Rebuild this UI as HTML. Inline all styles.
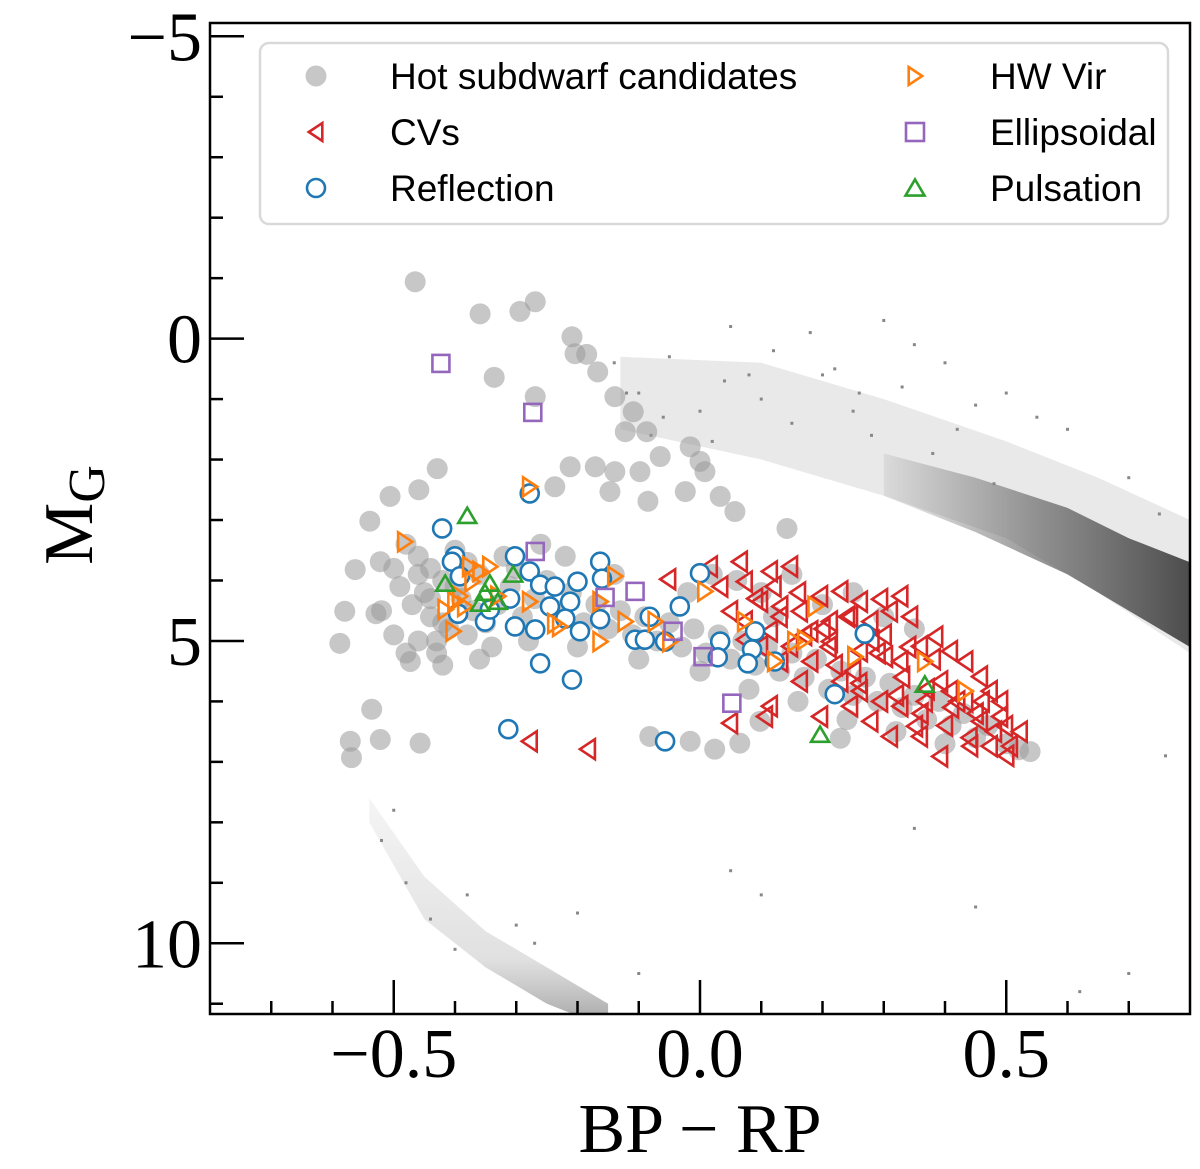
<!DOCTYPE html>
<html><head><meta charset="utf-8">
<style>
html,body{margin:0;padding:0;background:#fff;}
svg{display:block;}
.tick{font-family:"Liberation Serif","DejaVu Serif",serif;font-size:70px;fill:#000;}
.leg{font-family:"Liberation Sans","DejaVu Sans",sans-serif;font-size:37px;fill:#000;}
</style></head>
<body>
<svg id="chart" width="1200" height="1169" viewBox="0 0 1200 1169" xmlns="http://www.w3.org/2000/svg">
<defs>
<clipPath id="clip"><rect x="210" y="23" width="980" height="991"/></clipPath>
<linearGradient id="coreGrad" x1="0" y1="0" x2="1" y2="0">
<stop offset="0" stop-color="#555" stop-opacity="0.1"/>
<stop offset="0.5" stop-color="#555" stop-opacity="0.6"/>
<stop offset="1" stop-color="#444" stop-opacity="0.95"/>
</linearGradient>
<linearGradient id="wdGrad" x1="0" y1="0" x2="0" y2="1">
<stop offset="0" stop-color="#999" stop-opacity="0.1"/>
<stop offset="0.7" stop-color="#999" stop-opacity="0.3"/>
<stop offset="1" stop-color="#777" stop-opacity="0.7"/>
</linearGradient>
</defs>
<g id="plot" clip-path="url(#clip)"></g>
<g id="axes"></g>
</svg>
<script>
// ---- data ----
const xTicks = [-0.5, 0.0, 0.5];
const xTickLabels = ["\u22120.5", "0.0", "0.5"];
const yTicks = [-5, 0, 5, 10];
const yTickLabels = ["\u22125", "0", "5", "10"];

// field-star density band (upper main-sequence / giant region)
const bandX   = [-0.13, 0.1, 0.3, 0.5, 0.65, 0.8];
const bandTop = [0.3, 0.4, 1.0, 1.7, 2.3, 3.0];
const bandBot = [1.5, 2.0, 2.6, 3.3, 4.2, 5.2];
const coreX   = [0.3, 0.45, 0.6, 0.7, 0.8];
const coreTop = [1.9, 2.3, 2.8, 3.3, 3.7];
const coreBot = [2.6, 3.2, 3.9, 4.5, 5.1];
// white-dwarf sequence strip
const wdX   = [-0.54, -0.45, -0.35, -0.25, -0.15];
const wdTop = [7.6, 8.9, 9.8, 10.4, 11.0];
const wdBot = [8.0, 9.6, 10.4, 11.0, 11.4];
// scattered field stars
const fieldX = [-0.14,-0.1,-0.05,0.0,0.05,0.08,0.12,0.18,0.22,0.26,0.3,0.35,0.4,0.45,0.5,0.55,0.6,0.7,0.75,-0.08,0.02,0.15,0.28,0.38,0.48,0.58,-0.5,-0.52,-0.48,-0.44,-0.4,-0.38,-0.3,-0.27,-0.2,-0.1,0.05,0.1,0.35,0.45,0.62,0.7,0.76,-0.12,-0.06,0.04,0.1,0.2,0.25,0.33,0.42];
const fieldY = [0.4,0.9,0.3,1.2,-0.2,0.6,0.2,-0.1,0.5,0.9,-0.3,0.1,0.4,1.1,0.9,1.3,1.5,2.3,2.9,1.6,1.7,1.4,1.6,1.9,2.4,2.8,7.8,8.3,9.0,9.6,10.1,9.2,9.7,10.0,9.5,10.5,8.8,9.2,8.1,9.4,10.8,10.5,6.9,0.9,1.3,0.7,1.0,0.6,1.2,0.8,1.5];

// hot subdwarf candidates
const sdX = [-0.465,-0.359,-0.269,-0.294,-0.209,-0.204,-0.185,-0.167,-0.336,-0.269,-0.139,-0.109,-0.122,-0.087,-0.065,-0.016,0.0,-0.212,-0.171,-0.139,-0.098,-0.147,-0.237,-0.024,0.008,0.033,0.057,-0.085,-0.429,-0.506,-0.459,-0.539,-0.563,-0.58,-0.588,-0.529,-0.522,-0.536,-0.571,-0.569,-0.522,-0.457,-0.473,0.142,-0.082,-0.016,0.024,0.065,0.098,0.229,0.539,
 -0.48,-0.46,-0.44,-0.42,-0.45,-0.47,-0.44,-0.41,-0.46,-0.43,-0.40,-0.38,-0.36,-0.39,-0.37,-0.35,-0.38,-0.34,-0.32,-0.30,-0.31,-0.33,-0.29,-0.27,-0.25,-0.23,-0.21,-0.19,-0.17,-0.15,-0.13,-0.11,-0.09,-0.07,-0.05,-0.03,-0.01,0.01,0.03,0.05,0.07,0.09,0.11,0.13,0.15,0.17,0.19,0.21,0.23,0.25,0.27,0.29,0.31,0.33,0.35,0.37,0.39,0.41,0.43,0.45,0.47,0.50,0.52,-0.49,-0.50,-0.52,-0.50,-0.48,-0.42,-0.36,-0.28,-0.20,-0.10,0.00,0.08,0.16,0.24,0.32,0.40,0.06,0.10,0.15,0.20,0.25,0.30,0.35,-0.02,0.02,0.12,-0.14,-0.22,-0.26,-0.44,-0.42,-0.40,-0.46,-0.43];
const sdY = [-0.94,-0.41,-0.61,-0.45,-0.03,0.25,0.26,0.55,0.64,0.96,0.96,1.21,1.54,1.54,1.95,1.79,2.03,2.12,2.12,2.2,2.2,2.53,2.45,2.53,2.2,2.61,2.86,2.69,2.15,2.61,2.5,3.02,3.82,4.51,5.04,4.55,3.69,6.13,6.66,6.93,6.63,6.69,5.34,3.14,6.58,6.66,6.79,6.69,6.33,6.61,6.83,
 3.4,3.6,3.8,4.0,4.2,4.4,4.6,4.8,5.0,5.2,3.5,3.7,3.9,4.3,4.5,4.7,4.9,5.1,3.6,3.8,4.1,4.4,4.6,4.3,4.0,4.5,4.2,4.7,4.4,4.8,4.5,4.9,4.6,5.0,4.7,5.1,4.8,5.2,4.9,5.3,5.0,5.4,5.1,5.5,5.2,5.6,5.3,5.8,5.5,5.9,5.6,6.0,5.7,6.1,5.9,6.3,6.0,6.4,6.2,6.6,6.4,6.7,6.8,4.1,3.8,4.5,4.9,5.2,5.4,5.3,5.0,5.1,5.3,5.5,5.8,6.0,6.3,6.5,6.7,4.0,4.2,3.9,4.4,4.2,4.6,4.8,4.2,3.9,4.6,3.9,3.6,3.4,4.3,4.7,4.1,3.9,5.0];

// CVs
const cvX = [0.065,0.016,-0.052,0.033,0.073,0.114,0.147,0.098,0.049,0.131,0.163,0.196,0.229,0.261,0.294,0.327,0.245,0.278,0.310,0.343,0.384,0.359,0.408,0.433,0.457,0.473,0.490,0.522,0.473,0.441,0.392,0.359,0.327,0.294,0.261,0.229,0.180,0.147,0.114,0.073,0.131,0.212,0.261,0.327,0.392,0.433,0.457,0.498,0.506,0.278,0.310,0.351,0.245,0.114,0.106,0.049,0.196,-0.278,-0.183,0.302,0.408,0.367,0.490,0.212,0.180,0.163,0.098,0.073,
 0.09,0.13,0.17,0.21,0.25,0.29,0.33,0.37,0.41,0.45,0.12,0.16,0.20,0.24,0.28,0.32,0.36,0.40,0.44,0.48,0.22,0.26,0.30,0.34,0.38,0.42,0.46,0.50];
const cvY = [3.69,3.77,3.98,4.10,4.02,3.85,3.77,4.35,4.51,4.43,4.51,4.26,4.18,4.35,4.31,4.26,4.60,4.68,4.51,4.60,4.93,5.09,5.17,5.34,5.59,5.83,6.00,6.50,6.74,6.74,6.91,6.58,6.08,6.00,5.83,5.67,5.34,5.09,4.84,4.68,5.34,5.01,5.17,5.34,5.67,6.00,6.33,6.41,6.74,6.33,6.58,6.41,6.08,6.08,6.25,6.36,6.25,6.66,6.79,5.26,5.83,6.00,6.25,4.68,4.84,5.67,5.09,4.98,
 4.3,4.6,4.9,5.1,5.5,5.2,5.6,5.8,6.1,6.2,4.1,4.2,4.8,4.6,5.0,5.9,6.2,6.4,6.6,6.5,5.4,5.7,4.9,5.1,5.3,6.0,6.0,6.9];

// HW Vir
const hwX = [-0.482,-0.278,-0.376,-0.359,-0.343,-0.372,-0.392,-0.384,-0.4,-0.416,-0.403,-0.33,-0.278,-0.237,-0.229,-0.163,-0.139,-0.122,-0.073,-0.049,0.008,0.073,0.122,0.155,0.171,0.188,0.253,0.367,0.433,-0.163];
const hwY = [3.36,2.45,3.77,3.85,3.77,4.02,4.26,4.43,4.35,4.48,4.84,4.26,4.35,4.71,4.76,5.01,3.93,4.68,4.68,5.01,4.18,4.68,5.34,5.01,4.98,4.43,5.26,5.34,5.83,4.35];

// Reflection
const rfX = [-0.421,-0.278,-0.4,-0.405,-0.392,-0.302,-0.278,-0.261,-0.237,-0.2,-0.163,-0.16,-0.212,-0.245,-0.22,-0.196,-0.163,-0.302,-0.269,-0.351,-0.395,-0.261,-0.209,-0.313,-0.057,0.0,-0.033,-0.082,-0.106,-0.09,-0.057,0.033,0.029,0.090,0.085,0.078,0.122,0.269,0.220,-0.31,-0.343];
const rfY = [3.14,2.56,3.6,3.69,3.93,3.6,3.85,4.07,4.1,4.02,3.69,3.97,4.35,4.43,4.63,4.84,4.64,4.76,4.81,4.68,4.55,5.37,5.64,6.46,6.66,3.88,4.43,4.6,4.98,4.98,5.01,5.01,5.27,4.84,5.14,5.37,5.34,4.88,5.88,4.3,4.48];

// Ellipsoidal
const elX = [-0.423,-0.273,-0.269,-0.155,-0.106,-0.044,0.005,0.052];
const elY = [0.41,1.22,3.52,4.28,4.18,4.84,5.26,6.03];

// Pulsation
const puX = [-0.38,-0.416,-0.343,-0.351,-0.359,-0.33,-0.305,0.367,0.196];
const puY = [2.93,4.05,4.05,4.2,4.38,4.35,3.9,5.72,6.55];

// ---- scales ----
const X0=210, X1=1190, Y0=23, Y1=1014;
const xmin=-0.8, xmax=0.8, ymin=-5.22, ymax=11.17;
function sx(v){return X0+(v-xmin)/(xmax-xmin)*(X1-X0);}
function sy(v){return Y0+(v-ymin)/(ymax-ymin)*(Y1-Y0);}

const NS="http://www.w3.org/2000/svg";
const plot=document.getElementById('plot');
const axes=document.getElementById('axes');
function mk(tag,attrs,parent){const e=document.createElementNS(NS,tag);for(const k in attrs)e.setAttribute(k,attrs[k]);parent.appendChild(e);return e;}

function bandPath(xs,top,bot){
  let d='';
  xs.forEach((x,i)=>{d+=(i?'L':'M')+sx(x).toFixed(1)+','+sy(top[i]).toFixed(1);});
  for(let i=xs.length-1;i>=0;i--){d+='L'+sx(xs[i]).toFixed(1)+','+sy(bot[i]).toFixed(1);}
  return d+'Z';
}
let p=mk('path',{d:bandPath(bandX,bandTop,bandBot),fill:'#999','fill-opacity':'0.22'},plot);


p=mk('path',{d:bandPath(coreX,coreTop,coreBot),fill:'url(#coreGrad)'},plot);


p=mk('path',{d:bandPath(wdX,wdTop,wdBot),fill:'url(#wdGrad)'},plot);


fieldX.forEach((x,i)=>{
  const c=mk('rect',{x:sx(x)-1.5,y:sy(fieldY[i])-1.5,width:3,height:3,fill:'#888'},plot);
  
  
});
sdX.forEach((x,i)=>{
  const c=mk('circle',{cx:sx(x),cy:sy(sdY[i]),r:10.5,fill:'#999','fill-opacity':'0.55'},plot);
  
  
});
function triLeft(cx,cy,s){return `${cx-s*0.8},${cy} ${cx+s*0.7},${cy-s} ${cx+s*0.7},${cy+s}`;}
function triRight(cx,cy,s){return `${cx+s*0.8},${cy} ${cx-s*0.7},${cy-s} ${cx-s*0.7},${cy+s}`;}
function triUp(cx,cy,s){return `${cx},${cy-s*0.9} ${cx-s},${cy+s*0.8} ${cx+s},${cy+s*0.8}`;}
function drawCV(cx,cy,g,s){return mk('polygon',{points:triLeft(cx,cy,s),fill:'none',stroke:'#d62728','stroke-width':2.6},g);}
function drawHW(cx,cy,g,s){return mk('polygon',{points:triRight(cx,cy,s),fill:'none',stroke:'#ff7f0e','stroke-width':2.6},g);}
function drawRF(cx,cy,g,s){return mk('circle',{cx:cx,cy:cy,r:s,fill:'#fff',stroke:'#1f77b4','stroke-width':2.6},g);}
function drawEL(cx,cy,g,s){return mk('rect',{x:cx-s,y:cy-s,width:2*s,height:2*s,fill:'none',stroke:'#9467bd','stroke-width':2.6},g);}
function drawPU(cx,cy,g,s){return mk('polygon',{points:triUp(cx,cy,s),fill:'none',stroke:'#2ca02c','stroke-width':2.6},g);}

cvX.forEach((x,i)=>{const e=drawCV(sx(x),sy(cvY[i]),plot,10);
  
  });
rfX.forEach((x,i)=>{const e=drawRF(sx(x),sy(rfY[i]),plot,9);
  
  });
hwX.forEach((x,i)=>{const e=drawHW(sx(x),sy(hwY[i]),plot,9.5);
  
  });
elX.forEach((x,i)=>{const e=drawEL(sx(x),sy(elY[i]),plot,8.5);
  
  });
puX.forEach((x,i)=>{const e=drawPU(sx(x),sy(puY[i]),plot,9);
  
  });

// ---- axes ----
let fr=mk('rect',{x:X0,y:Y0,width:X1-X0,height:Y1-Y0,fill:'none',stroke:'#000','stroke-width':2.5},axes);


for(let v=-0.7;v<=0.71;v+=0.1){
  const isMaj=xTicks.some(t=>Math.abs(t-v)<1e-6);
  const X=sx(v);
  const t=mk('line',{x1:X,x2:X,y1:Y1,y2:Y1-(isMaj?34:13),stroke:'#000','stroke-width':2.5},axes);
  
  
}
for(let v=-5;v<=11;v+=1){
  const isMaj=yTicks.includes(v);
  const Y=sy(v);
  const t=mk('line',{x1:X0,x2:X0+(isMaj?34:13),y1:Y,y2:Y,stroke:'#000','stroke-width':2.5},axes);
  
  
}
xTicks.forEach((v,i)=>{
  const t=mk('text',{x:sx(v),y:1077,'text-anchor':'middle',class:'tick'},axes);
  t.textContent=xTickLabels[i];
  
  
});
yTicks.forEach((v,i)=>{
  const t=mk('text',{x:202,y:sy(v)+24,'text-anchor':'end',class:'tick'},axes);
  t.textContent=yTickLabels[i];
  
  
});
let xt=mk('text',{x:700,y:1152,'text-anchor':'middle',class:'tick','font-size':'80'},axes);
xt.textContent='BP \u2212 RP';


let yt=mk('text',{transform:'translate(92,515) rotate(-90)','text-anchor':'middle',class:'tick','font-size':'80'},axes);
yt.innerHTML='M<tspan font-size="52" dy="12">G</tspan>';



// ---- legend ----
const lg=mk('g',{},axes);


mk('rect',{x:260,y:43,width:908,height:181,rx:9,fill:'#fff','fill-opacity':'0.85',stroke:'#d9d9d9','stroke-width':2.5},lg);
const legLabels=['Hot subdwarf candidates','CVs','Reflection','HW Vir','Ellipsoidal','Pulsation'];
const legX=[316,316,316,915,915,915], legTX=[390,390,390,990,990,990], legY=[76,132,188,76,132,188];
legLabels.forEach((lab,i)=>{
  const g=mk('g',{},lg);
  
  
  const mx=legX[i], my=legY[i];
  if(i===0) mk('circle',{cx:mx,cy:my,r:10.5,fill:'#999','fill-opacity':'0.55'},g);
  if(i===1) drawCV(mx,my,g,9);
  if(i===2) drawRF(mx,my,g,9);
  if(i===3) drawHW(mx,my,g,9);
  if(i===4) drawEL(mx,my,g,9);
  if(i===5) drawPU(mx,my,g,9.5);
  const t=mk('text',{x:legTX[i],y:my+13,class:'leg'},g);
  t.textContent=lab;
});
</script>
</body></html>
